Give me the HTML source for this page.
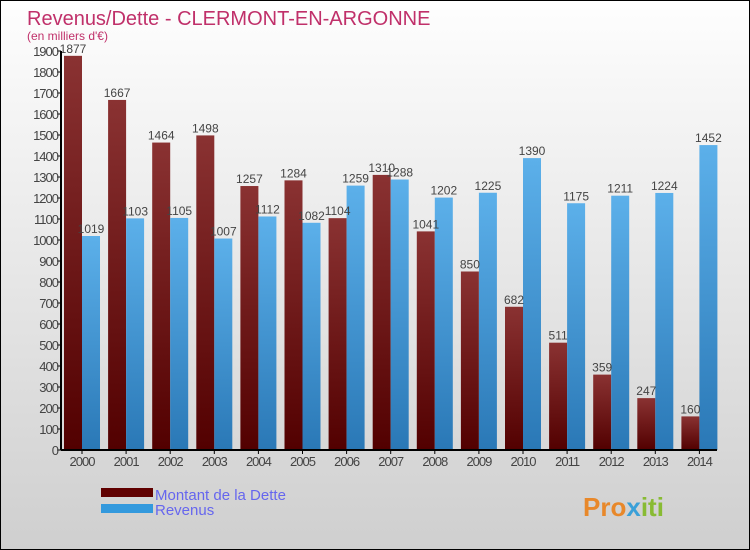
<!DOCTYPE html>
<html><head><meta charset="utf-8"><style>
body{margin:0}
#c{position:relative;width:748px;height:548px;border:1px solid #000;background:linear-gradient(#fefefe,#f0f0f0 30%,#cfcfcf);font-family:"Liberation Sans",sans-serif;overflow:hidden}
</style></head><body>
<div id="c">
<svg width="748" height="548" id="svg">
<defs>
<linearGradient id="gd" x1="0" y1="0" x2="0" y2="1"><stop offset="0" stop-color="#8a3232"/><stop offset="1" stop-color="#520000"/></linearGradient>
<linearGradient id="gr" x1="0" y1="0" x2="0" y2="1"><stop offset="0" stop-color="#5cb0ea"/><stop offset="1" stop-color="#2a78b6"/></linearGradient>
</defs>
<text x="26" y="24" font-size="20" fill="#c0306a">Revenus/Dette - CLERMONT-EN-ARGONNE</text>
<text x="26" y="39" font-size="12" fill="#c0306a">(en milliers d'€)</text>
<g id="plot"></g>
<rect x="100" y="487" width="52" height="9" fill="#600000"/>
<rect x="100" y="503" width="52" height="9" fill="#3399dd"/>
<text x="154" y="499" font-size="15" fill="#6666ee">Montant de la Dette</text>
<text x="154" y="514" font-size="15" fill="#6666ee">Revenus</text>
<text x="582" y="515" font-size="26" font-weight="bold" fill="#e8882a">Pro<tspan fill="#3aa0d8">x</tspan><tspan fill="#88bb33">iti</tspan></text>
</svg>
</div>
<script>
const years=[2000,2001,2002,2003,2004,2005,2006,2007,2008,2009,2010,2011,2012,2013,2014];
const dette=[1877,1667,1464,1498,1257,1284,1104,1310,1041,850,682,511,359,247,160];
const revenus=[1019,1103,1105,1007,1112,1082,1259,1288,1202,1225,1390,1175,1211,1224,1452];
const yTicks=[0,100,200,300,400,500,600,700,800,900,1000,1100,1200,1300,1400,1500,1600,1700,1800,1900];
const NS="http://www.w3.org/2000/svg";
const g=document.getElementById('plot');
const x0=60,y0=449,yTop=50,step=44.1,first=81;
const ys=v=>y0-(v/1900)*(y0-yTop);
const xs=i=>first+i*step;
function el(t,a,txt){const e=document.createElementNS(NS,t);for(const k in a)e.setAttribute(k,a[k]);if(txt!=null)e.textContent=txt;g.appendChild(e);return e;}
yTicks.forEach(v=>{
 const t=el('line',{x1:x0-4,x2:x0,y1:ys(v),y2:ys(v),stroke:'#000'});
 
 
 const l=el('text',{x:x0-3,y:ys(v)+5,'font-size':13,'text-anchor':'end',fill:'#444','letter-spacing':'-1'},v);
 
 
});
years.forEach((y,i)=>{
 const cx=xs(i);
 const bd=el('rect',{x:cx-18,y:ys(dette[i]),width:18,height:y0-ys(dette[i]),fill:'url(#gd)'});
 
 
 const br=el('rect',{x:cx,y:ys(revenus[i]),width:18,height:y0-ys(revenus[i]),fill:'url(#gr)'});
 
 
 const ld=el('text',{x:cx-9,y:ys(dette[i])-3,'font-size':12,'text-anchor':'middle',fill:'#444'},dette[i]);
 
 
 const lr=el('text',{x:cx+9,y:ys(revenus[i])-3,'font-size':12,'text-anchor':'middle',fill:'#444'},revenus[i]);
 
 
 const tk=el('line',{x1:cx,x2:cx,y1:y0,y2:y0+4,stroke:'#000'});
 
 
 const xl=el('text',{x:cx,y:y0+16,'font-size':13,'text-anchor':'middle',fill:'#444','letter-spacing':'-1'},y);
 
 
});
const ya=el('line',{x1:x0,x2:x0,y1:yTop,y2:y0,stroke:'#000','stroke-width':2});


const xa=el('line',{x1:x0,x2:716,y1:y0,y2:y0,stroke:'#000','stroke-width':2});


</script>
</body></html>
